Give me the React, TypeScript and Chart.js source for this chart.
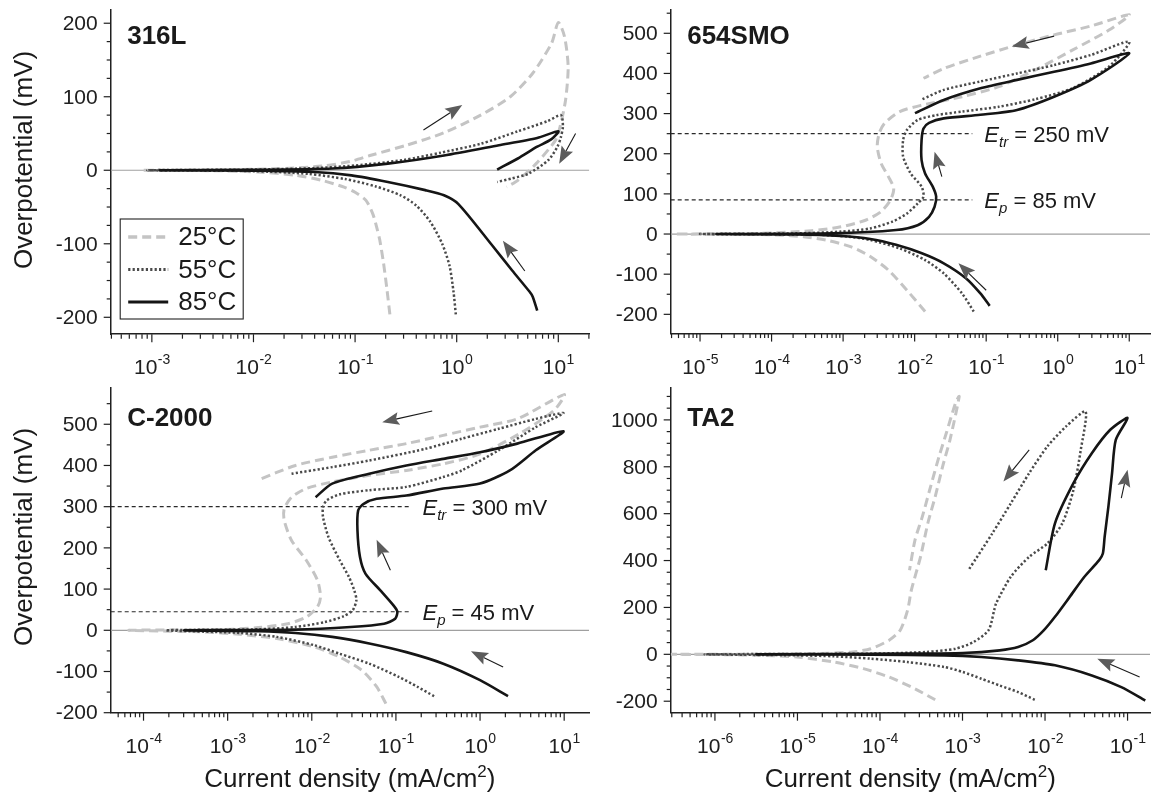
import React, { useEffect, useRef } from 'react';
import { Chart, registerables } from 'chart.js';

Chart.register(...registerables);

type Pt = [number, number];
type Arrow = [number, number, number, number];

const FONT = '"Liberation Sans", Arial, Helvetica, sans-serif';

// ---------------- DATA (current density mA/cm², overpotential mV) ----------------
// 316L
const s316_25: Pt[] = [
  [0.22, -196], [0.205, -160], [0.19, -125], [0.175, -95], [0.165, -80], [0.15, -60], [0.128, -41], [0.1, -30],
  [0.078, -23], [0.047, -13.7], [0.026, -6.8], [0.011, -2.3], [0.004, -0.6], [0.0008, 0],
  [0.005, 0.5], [0.02, 2.5], [0.05, 6], [0.09, 12], [0.14, 20], [0.32, 34], [0.75, 51], [1.72, 75], [3.37, 100],
  [5.6, 132], [8.6, 173], [10, 201],
  [11.5, 182], [12.5, 141], [11.8, 96], [10.4, 59], [9.4, 41], [6.05, 9], [4.0, -13.7], [3.1, -22.8],
];
const s316_55: Pt[] = [
  [0.98, -196], [0.93, -165], [0.85, -130], [0.72, -100], [0.55, -70], [0.4, -48], [0.28, -34], [0.16, -22],
  [0.08, -12], [0.035, -5], [0.01, -1.2], [0.0009, 0],
  [0.01, 1], [0.04, 3], [0.1, 6.5], [0.3, 14], [0.7, 24], [1.72, 36], [4, 53], [7.9, 67], [10.6, 75],
  [11.1, 60], [10.6, 45], [9.8, 32], [8, 14], [5.1, -4.6], [3.5, -11], [2.5, -16],
];
const s316_85: Pt[] = [
  [6.2, -191], [5.6, -172], [5.2, -165], [3.5, -136], [2.2, -101], [1.04, -46], [0.75, -34], [0.49, -27],
  [0.21, -16], [0.092, -7], [0.04, -2.3], [0.011, -0.5], [0.0012, 0],
  [0.01, 0.5], [0.06, 2.3], [0.21, 9], [0.75, 20], [2.6, 34], [6.2, 44], [10, 53],
  [8.5, 42], [6.2, 32], [4, 16], [2.5, 1],
];
const arrows316: Arrow[] = [[0.471, 54.7, 1.135, 88.8], [14.8, 50, 10.2, 9], [4.68, -137, 2.85, -96]];

// 654SMO
const s654_25: Pt[] = [
  [0.014, -193], [0.0078, -140], [0.0043, -90], [0.0024, -56], [0.0013, -32], [5.8e-4, -15], [2.8e-4, -6.6],
  [1.25e-4, -2.5], [3.8e-5, -0.8], [4.5e-6, 0],
  [6.9e-5, 1.7], [3.6e-4, 8.3], [9.3e-4, 18], [2.1e-3, 35], [3.4e-3, 56], [4.6e-3, 85], [5.1e-3, 114], [4.3e-3, 143],
  [3.4e-3, 176], [3.0e-3, 218], [3.2e-3, 251], [3.8e-3, 276], [6.2e-3, 305], [0.0126, 321], [0.046, 342],
  [0.15, 367], [0.49, 409], [1.6, 458], [5.2, 508], [10, 546],
  [2.9, 518], [0.89, 496], [0.27, 471], [0.083, 443], [0.026, 413], [0.0133, 388],
];
const s654_55: Pt[] = [
  [0.067, -193], [0.046, -148], [0.0255, -98], [0.014, -65], [0.0062, -36], [0.0024, -15], [0.00118, -6.6],
  [4.1e-4, -1.7], [1.0e-5, 0],
  [2.2e-4, 1.7], [9.3e-4, 6], [0.0024, 14], [0.0049, 31], [0.0078, 51], [0.011, 76], [0.0133, 93], [0.0125, 118],
  [0.0088, 151], [0.0069, 193], [0.0069, 234], [0.0078, 259], [0.011, 284], [0.02, 296], [0.046, 305],
  [0.15, 317], [0.49, 336], [1.6, 363], [5.2, 417], [10, 479],
  [2.9, 446], [0.89, 421], [0.27, 400], [0.083, 380], [0.0255, 359], [0.0126, 335],
];
const s654_85: Pt[] = [
  [0.112, -179], [0.083, -148], [0.052, -110], [0.0255, -73], [0.0126, -48], [0.0055, -27], [0.0024, -12.5],
  [9.3e-4, -5], [2.2e-4, -0.8], [1.7e-5, 0],
  [7.3e-4, 1.7], [0.0055, 10], [0.011, 22], [0.0159, 43], [0.019, 68], [0.02, 93], [0.0179, 118], [0.014, 151],
  [0.0125, 184], [0.0125, 234], [0.0133, 263], [0.0159, 277], [0.0255, 288], [0.083, 297], [0.27, 309],
  [0.89, 342], [2.9, 384], [10, 450],
  [2.9, 425], [0.89, 404], [0.27, 384], [0.083, 363], [0.0255, 334], [0.0101, 301],
];
const arrows654: Arrow[] = [[0.89, 493, 0.228, 467], [0.024, 143, 0.019, 205], [0.1, -140, 0.041, -73]];
const refs654 = [250, 85];

// C-2000
const s2000_25: Pt[] = [
  [0.076, -178], [0.059, -137], [0.0394, -97], [0.0215, -65], [0.0106, -40], [0.00384, -20], [0.00139, -9.7],
  [5.1e-4, -4], [6.7e-5, 0],
  [8.4e-4, 1.6], [0.00231, 6.5], [0.0052, 16], [0.0086, 32], [0.0117, 57], [0.0127, 81], [0.0117, 121],
  [0.0086, 170], [0.00575, 218], [0.0047, 267], [0.0047, 295], [0.00575, 323], [0.0086, 344], [0.0175, 360],
  [0.0482, 376], [0.133, 388], [0.366, 404], [1.0, 428], [3.0, 478], [7.6, 534], [10, 572],
  [2.77, 513], [1.0, 493], [0.366, 473], [0.133, 453], [0.0482, 437], [0.0175, 420], [0.0064, 400], [0.00231, 365],
];
const s2000_55: Pt[] = [
  [0.284, -160], [0.18, -137], [0.108, -113], [0.0482, -81], [0.0215, -57], [0.0106, -36], [0.00384, -16],
  [0.00139, -6.5], [1.84e-4, 0],
  [0.00231, 2.4], [0.0064, 8], [0.0143, 20], [0.0238, 34], [0.0306, 48.5], [0.0339, 73], [0.032, 97],
  [0.0277, 129], [0.0215, 170], [0.0158, 226], [0.0136, 275], [0.0136, 299], [0.015, 315], [0.0215, 330],
  [0.0482, 340], [0.133, 348], [0.366, 372], [0.607, 388], [1.67, 437], [4.6, 493], [9.8, 527],
  [4.6, 513], [1.67, 489], [0.607, 465], [0.22, 440], [0.0482, 412], [0.0175, 396], [0.00575, 380],
];
const s2000_85: Pt[] = [
  [2.15, -160], [1.0, -121], [0.366, -81], [0.133, -53], [0.0482, -32], [0.0175, -16], [0.0064, -6.5],
  [0.00231, -2.4], [3.05e-4, 0],
  [0.0064, 1.6], [0.029, 8], [0.0723, 16], [0.098, 28], [0.104, 45], [0.093, 61], [0.0653, 97], [0.0436, 137],
  [0.0374, 178], [0.0349, 243], [0.0356, 291], [0.0414, 307], [0.059, 319], [0.133, 327], [0.366, 344],
  [1.0, 356], [2.26, 388], [4.6, 437], [9.8, 483],
  [2.77, 453], [1.0, 432], [0.366, 416], [0.133, 400], [0.0482, 380], [0.0175, 356], [0.0111, 323],
];
const arrows2000: Arrow[] = [[0.27, 532, 0.0687, 505], [0.086, 145.5, 0.059, 220], [1.88, -89, 0.78, -51]];
const refs2000 = [300, 45];

// TA2
const sTA2_25: Pt[] = [
  [4.67e-4, -194], [2.66e-4, -147], [1.29e-4, -97], [6.3e-5, -61], [2.77e-5, -33], [9.9e-6, -11.4],
  [3.54e-6, -4.3], [1.3e-6, -1.4], [3.0e-7, 0],
  [3.54e-6, 0.5], [1.66e-5, 3], [4.63e-5, 10], [7.7e-5, 24], [1.29e-4, 60], [1.76e-4, 103], [2.16e-4, 188],
  [2.4e-4, 274], [3.1e-4, 416], [3.8e-4, 559], [4.67e-4, 673], [5.74e-4, 801], [7.05e-4, 915], [9.12e-4, 1100],
  [8.23e-4, 1072], [6.37e-4, 944], [5.2e-4, 844], [4.0e-4, 701], [3.26e-4, 587], [2.66e-4, 488], [2.28e-4, 359],
];
const sTA2_55: Pt[] = [
  [7.5e-3, -194], [4.72e-3, -161], [2.82e-3, -133], [1.69e-3, -104], [1.01e-3, -75.5], [6.04e-4, -54],
  [2.16e-4, -33], [7.7e-5, -18.5], [2.77e-5, -8.5], [9.9e-6, -4.3], [7.6e-7, 0],
  [7.7e-5, 2.9], [3.6e-4, 10], [8.23e-4, 24], [1.37e-3, 53], [2.07e-3, 103], [2.42e-3, 188], [2.55e-3, 217],
  [3.85e-3, 331], [6.43e-3, 416], [0.0107, 473], [0.0162, 559], [0.0221, 701], [0.0271, 872], [0.031, 1036],
  [0.018, 972], [0.0107, 887], [6.43e-3, 773], [3.85e-3, 644], [2.3e-3, 516], [1.18e-3, 359],
];
const sTA2_85: Pt[] = [
  [0.164, -197], [0.084, -140], [0.0369, -90], [0.0132, -47], [4.72e-3, -25.7], [1.69e-3, -11.4],
  [6.04e-4, -4.3], [7.7e-5, -1.4], [3.19e-6, 0],
  [2.16e-4, 2.9], [1.01e-3, 5.7], [2.82e-3, 17], [4.72e-3, 31], [7.12e-3, 60], [9.7e-3, 103], [0.0132, 160],
  [0.0199, 245], [0.03, 331], [0.0453, 402], [0.0502, 430], [0.0528, 502], [0.0586, 630], [0.0649, 773],
  [0.072, 915], [0.1, 1008],
  [0.0617, 958], [0.0369, 858], [0.0221, 730], [0.0132, 559], [0.0102, 359],
];
const arrowsTA2: Arrow[] = [[6.43e-3, 872, 3.13e-3, 737], [0.084, 666, 0.1, 787], [0.14, -97, 0.043, -18.5]];

const TEMPS = ['25°C', '55°C', '85°C'];

// ---------------- STYLES / LAYOUT ----------------
const STYLES = [
  { color: '#c4c4c4', width: 3, dash: [9, 5] },
  { color: '#4a4a4a', width: 2.5, dash: [2.2, 2.2] },
  { color: '#151515', width: 2.6, dash: [] as number[] },
];

interface Area { l: number; t: number; r: number; b: number }
interface PanelCfg {
  title: string;
  curves: Pt[][];
  area: Area;
  xMin: number; xMax: number; yMin: number; yMax: number;
  yStep: number; yMinor: number;
  arrows: Arrow[];
  refs: number[];
  refEnd: number;
  legend: boolean;
  yTitleY: number | null;
  xTitle: boolean;
  titleBase: number;
}

const W = 1152, H = 797;

const PANELS: PanelCfg[] = [
  {
    title: '316L', curves: [s316_25, s316_55, s316_85], area: { l: 110.7, t: 10, r: 589.3, b: 334.2 },
    xMin: Math.pow(10, -3.405), xMax: Math.pow(10, 1.305), yMin: -223, yMax: 218, yStep: 100, yMinor: 25,
    arrows: arrows316, refs: [], refEnd: 0, legend: true, yTitleY: 160, xTitle: false, titleBase: 44,
  },
  {
    title: '654SMO', curves: [s654_25, s654_55, s654_85], area: { l: 670.7, t: 10, r: 1150, b: 333.6 },
    xMin: Math.pow(10, -5.41), xMax: Math.pow(10, 1.29), yMin: -248, yMax: 558, yStep: 100, yMinor: 50,
    arrows: arrows654, refs: refs654, refEnd: 0.064, legend: false, yTitleY: null, xTitle: false, titleBase: 44,
  },
  {
    title: 'C-2000', curves: [s2000_25, s2000_55, s2000_85], area: { l: 110.7, t: 388, r: 589, b: 712.7 },
    xMin: Math.pow(10, -4.39), xMax: Math.pow(10, 1.295), yMin: -200, yMax: 588, yStep: 100, yMinor: 50,
    arrows: arrows2000, refs: refs2000, refEnd: 0.149, legend: false, yTitleY: 537, xTitle: true, titleBase: 425.5,
  },
  {
    title: 'TA2', curves: [sTA2_25, sTA2_55, sTA2_85], area: { l: 670.7, t: 388, r: 1150, b: 712.7 },
    xMin: Math.pow(10, -6.536), xMax: Math.pow(10, -0.728), yMin: -249, yMax: 1136, yStep: 200, yMinor: 50,
    arrows: arrowsTA2, refs: [], refEnd: 0, legend: false, yTitleY: null, xTitle: true, titleBase: 425.5,
  },
];

function drawArrow(ctx: CanvasRenderingContext2D, x1: number, y1: number, x2: number, y2: number) {
  const ang = Math.atan2(y2 - y1, x2 - x1);
  const c = Math.cos(ang), s = Math.sin(ang);
  const headLen = 17, headW = 6.5;
  const bx = x2 - headLen * c, by = y2 - headLen * s;
  ctx.save();
  ctx.setLineDash([]);
  ctx.strokeStyle = '#1a1a1a';
  ctx.lineWidth = 1.1;
  ctx.beginPath();
  ctx.moveTo(x1, y1);
  ctx.lineTo(bx + 3 * c, by + 3 * s);
  ctx.stroke();
  ctx.fillStyle = '#5c5c5c';
  ctx.beginPath();
  ctx.moveTo(x2, y2);
  ctx.lineTo(bx - headW * s, by + headW * c);
  ctx.lineTo(bx + 3 * c, by + 3 * s);
  ctx.lineTo(bx + headW * s, by - headW * c);
  ctx.closePath();
  ctx.fill();
  ctx.restore();
}

function makeOverlay(cfg: PanelCfg) {
  return {
    id: 'overlay_' + cfg.title,
    afterDraw(chart: any) {
      const ctx: CanvasRenderingContext2D = chart.ctx;
      const xs = chart.scales.x, ys = chart.scales.y;
      const { left, right, top, bottom } = chart.chartArea;
      ctx.save();
      ctx.setLineDash([]);
      ctx.fillStyle = '#202020';
      ctx.strokeStyle = '#202020';

      // y ticks + labels
      ctx.lineWidth = 1.2;
      ctx.font = `21px ${FONT}`;
      ctx.textAlign = 'right';
      ctx.textBaseline = 'middle';
      const startV = Math.ceil(cfg.yMin / cfg.yMinor) * cfg.yMinor;
      for (let v = startV; v <= cfg.yMax + 1e-9; v += cfg.yMinor) {
        const py = ys.getPixelForValue(v);
        const major = Math.abs(v / cfg.yStep - Math.round(v / cfg.yStep)) < 1e-6;
        const len = major ? 7 : 4;
        ctx.beginPath();
        ctx.moveTo(left - len, py);
        ctx.lineTo(left, py);
        ctx.stroke();
        if (major) ctx.fillText(String(v), left - 13, py + 1);
      }

      // x ticks + labels (log)
      const lo = Math.floor(Math.log10(cfg.xMin)), hi = Math.ceil(Math.log10(cfg.xMax));
      for (let d = lo; d <= hi; d++) {
        for (let m = 1; m <= 9; m++) {
          const v = m * Math.pow(10, d);
          if (v <= cfg.xMin * 1.001 || v >= cfg.xMax / 1.001) continue;
          const px = xs.getPixelForValue(v);
          const len = m === 1 ? 8 : 4.5;
          ctx.beginPath();
          ctx.moveTo(px, bottom);
          ctx.lineTo(px, bottom + len);
          ctx.stroke();
          if (m === 1) {
            const exp = d < 0 ? '-' + String(-d) : String(d);
            ctx.font = `21px ${FONT}`;
            const wb = ctx.measureText('10').width;
            ctx.font = `14px ${FONT}`;
            const we = ctx.measureText(exp).width;
            const x0 = px - (wb + we) / 2;
            ctx.textAlign = 'left';
            ctx.textBaseline = 'alphabetic';
            ctx.font = `21px ${FONT}`;
            ctx.fillText('10', x0, bottom + 40);
            ctx.font = `14px ${FONT}`;
            ctx.fillText(exp, x0 + wb + 0.5, bottom + 30);
          }
        }
      }

      // panel title
      ctx.textAlign = 'left';
      ctx.textBaseline = 'alphabetic';
      ctx.font = `bold 26px ${FONT}`;
      ctx.fillStyle = '#1a1a1a';
      ctx.fillText(cfg.title, left + 16.5, cfg.titleBase);

      // reference labels
      if (cfg.refs.length) {
        const lx = xs.getPixelForValue(cfg.refEnd) + 12;
        cfg.refs.forEach((rv, i) => {
          const py = ys.getPixelForValue(rv);
          const sub = i === 0 ? 'tr' : 'p';
          let x = lx;
          const base = py + 8;
          ctx.fillStyle = '#1a1a1a';
          ctx.font = `italic 22px ${FONT}`;
          ctx.fillText('E', x, base);
          x += ctx.measureText('E').width;
          ctx.font = `italic 15px ${FONT}`;
          ctx.fillText(sub, x, base + 5);
          x += ctx.measureText(sub).width;
          ctx.font = `22px ${FONT}`;
          ctx.fillText(` = ${rv} mV`, x, base);
        });
      }

      // arrows
      cfg.arrows.forEach(([ax1, ay1, ax2, ay2]) => {
        drawArrow(ctx, xs.getPixelForValue(ax1), ys.getPixelForValue(ay1), xs.getPixelForValue(ax2), ys.getPixelForValue(ay2));
      });

      // legend
      if (cfg.legend) {
        const bx = left + 9.5, by = top + 209, bw = 123, bh = 100;
        ctx.lineWidth = 1.1;
        ctx.strokeStyle = '#222';
        ctx.strokeRect(bx, by, bw, bh);
        const rows = [by + 18, by + 50.5, by + 83];
        STYLES.forEach((st, i) => {
          ctx.save();
          ctx.beginPath();
          ctx.setLineDash(st.dash);
          ctx.strokeStyle = st.color;
          ctx.lineWidth = st.width + 0.6;
          ctx.moveTo(bx + 8, rows[i]);
          ctx.lineTo(bx + 48, rows[i]);
          ctx.stroke();
          ctx.restore();
          ctx.fillStyle = '#1a1a1a';
          ctx.font = `26px ${FONT}`;
          ctx.textAlign = 'left';
          ctx.textBaseline = 'middle';
          ctx.fillText(TEMPS[i], bx + 58, rows[i] + 1);
        });
      }

      // y title
      if (cfg.yTitleY !== null) {
        ctx.save();
        ctx.translate(25, cfg.yTitleY);
        ctx.rotate(-Math.PI / 2);
        ctx.textAlign = 'center';
        ctx.textBaseline = 'middle';
        ctx.font = `26px ${FONT}`;
        ctx.fillStyle = '#1a1a1a';
        ctx.fillText('Overpotential (mV)', 0, 0);
        ctx.restore();
      }

      // x title
      if (cfg.xTitle) {
        const t1 = 'Current density (mA/cm', t2 = '2', t3 = ')';
        ctx.font = `26px ${FONT}`;
        const w1 = ctx.measureText(t1).width, w3 = ctx.measureText(t3).width;
        ctx.font = `17px ${FONT}`;
        const w2 = ctx.measureText(t2).width;
        const cx = (left + right) / 2;
        let x = cx - (w1 + w2 + w3) / 2;
        const base = 787;
        ctx.textAlign = 'left';
        ctx.textBaseline = 'alphabetic';
        ctx.fillStyle = '#1a1a1a';
        ctx.font = `26px ${FONT}`;
        ctx.fillText(t1, x, base);
        x += w1;
        ctx.font = `17px ${FONT}`;
        ctx.fillText(t2, x, base - 10);
        x += w2;
        ctx.font = `26px ${FONT}`;
        ctx.fillText(t3, x, base);
      }
      ctx.restore();
    },
  };
}

function buildConfig(cfg: PanelCfg): any {
  const datasets: any[] = [];
  // index 0 drawn on top: 85, 55, 25
  [2, 1, 0].forEach((i) => {
    const st = STYLES[i];
    datasets.push({
      label: TEMPS[i],
      data: cfg.curves[i].map(([x, y]) => ({ x, y })),
      showLine: true,
      borderColor: st.color,
      borderWidth: st.width,
      borderDash: st.dash,
      borderCapStyle: 'butt',
      pointRadius: 0,
      tension: 0.25,
      fill: false,
    });
  });
  cfg.refs.forEach((rv) => {
    datasets.push({
      label: 'ref' + rv,
      data: [{ x: cfg.xMin, y: rv }, { x: cfg.refEnd, y: rv }],
      showLine: true,
      borderColor: '#2a2a2a',
      borderWidth: 1.2,
      borderDash: [4, 3],
      pointRadius: 0,
      tension: 0,
    });
  });
  datasets.push({
    label: 'zero',
    data: [{ x: cfg.xMin, y: 0 }, { x: cfg.xMax, y: 0 }],
    showLine: true,
    borderColor: '#a0a0a0',
    borderWidth: 1.2,
    pointRadius: 0,
    tension: 0,
  });

  const a = cfg.area;
  const yW = 60, xH = 30;
  return {
    type: 'scatter',
    data: { datasets },
    options: {
      responsive: false,
      animation: false,
      events: [],
      layout: { padding: { left: a.l - yW, top: a.t, right: W - a.r, bottom: H - a.b - xH } },
      plugins: { legend: { display: false }, tooltip: { enabled: false }, title: { display: false } },
      scales: {
        x: {
          type: 'logarithmic', position: 'bottom', min: cfg.xMin, max: cfg.xMax, bounds: 'data',
          ticks: { display: false }, grid: { display: false },
          border: { display: true, color: '#202020', width: 1.5 },
          afterFit: (s: any) => { s.height = xH; },
        },
        y: {
          type: 'linear', position: 'left', min: cfg.yMin, max: cfg.yMax, bounds: 'data',
          ticks: { display: false }, grid: { display: false },
          border: { display: true, color: '#202020', width: 1.5 },
          afterFit: (s: any) => { s.width = yW; },
        },
      },
    },
    plugins: [makeOverlay(cfg)],
  };
}

function Panel({ cfg }: { cfg: PanelCfg }) {
  const ref = useRef<HTMLCanvasElement>(null);
  useEffect(() => {
    const chart = new Chart(ref.current as HTMLCanvasElement, buildConfig(cfg));
    return () => chart.destroy();
  }, [cfg]);
  return (
    <canvas
      ref={ref}
      width={W}
      height={H}
      style={{ position: 'absolute', left: 0, top: 0, width: W, height: H }}
    />
  );
}

export default function App() {
  return (
    <div style={{ position: 'absolute', left: 0, top: 0, width: W, height: H, background: '#fff', overflow: 'hidden' }}>
      {PANELS.map((p) => (
        <Panel key={p.title} cfg={p} />
      ))}
    </div>
  );
}
